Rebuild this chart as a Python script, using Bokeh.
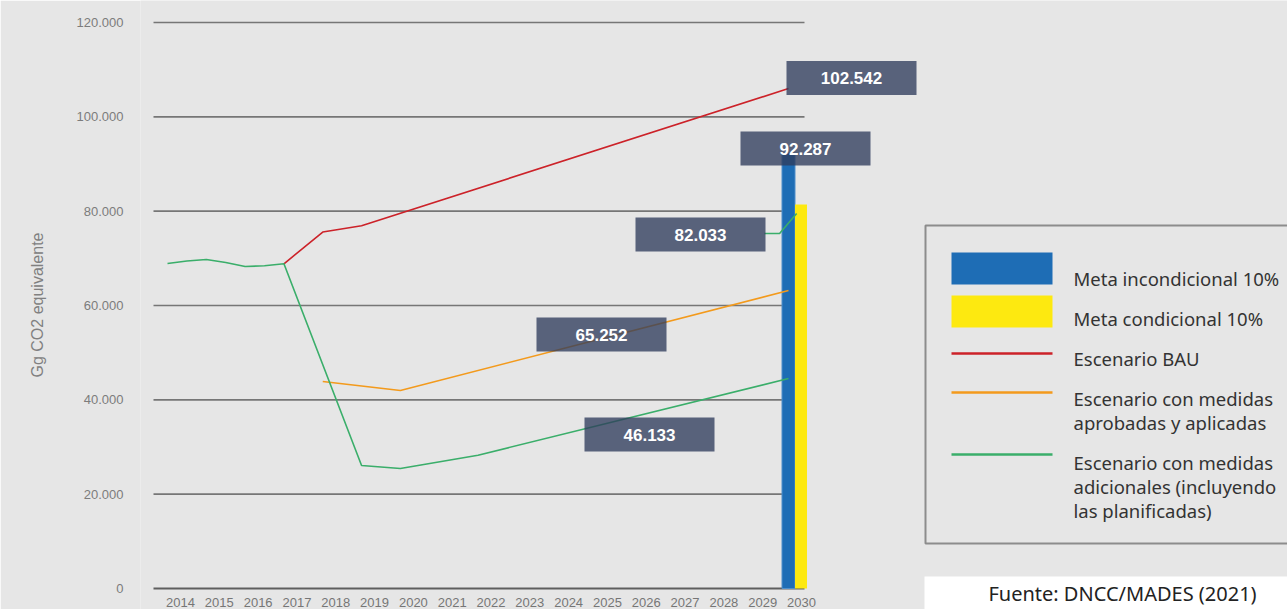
from bokeh.plotting import figure
from bokeh.models import FixedTicker
from bokeh.core.properties import value
from bokeh.embed import file_html
from bokeh.resources import INLINE

# ---------------- data ----------------
years = list(range(2014, 2031))
year_labels = [str(y) for y in years]

y_ticks = [0, 20000, 40000, 60000, 80000, 100000, 120000]
y_tick_labels = ["0", "20.000", "40.000", "60.000", "80.000", "100.000", "120.000"]

bau_years = [2017, 2018, 2019, 2030]
bau_values = [68840, 75580, 76900, 106000]

aprob_years = [2018, 2020, 2030]
aprob_values = [43890, 41980, 63180]

adic_years = [2014, 2014.5, 2015, 2015.5, 2016, 2016.5, 2017, 2019, 2020, 2022, 2030]
adic_values = [68900, 69430, 69750, 69120, 68270, 68420, 68840, 26080, 25440, 28260, 44520]

meta_path_years = [2029.38, 2029.77, 2030.21]
meta_path_values = [75260, 75260, 79500]

bar_year = 2030
meta_incond = 92287
meta_cond = 81400

callout_values = ["102.542", "92.287", "82.033", "65.252", "46.133"]

legend_labels = [
    "Meta incondicional 10%",
    "Meta condicional 10%",
    "Escenario BAU",
    "Escenario con medidas\naprobadas y aplicadas",
    "Escenario con medidas\nadicionales (incluyendo\nlas planificadas)",
]
y_axis_title = "Gg CO2 equivalente"
source_text = "Fuente: DNCC/MADES (2021)"

# ---------------- layout helpers ----------------
BG = "#e6e6e6"
W, H = 1287, 609
FRAME_LEFT = 140
PX_PER_YEAR = 38.8125
UPP = 120000 / 566.0          # data units per screen pixel (vertical)


def rx(px):
    return 2014 + (px - 167) / PX_PER_YEAR


def ry(py):
    return (588 - py) * UPP


X0, X1 = rx(FRAME_LEFT), rx(W)
Y0, Y1 = ry(H), ry(0)

p = figure(width=W, height=H, x_range=(X0, X1), y_range=(Y0, Y1),
           output_backend="svg", toolbar_location=None, x_axis_location=None,
           min_border_left=FRAME_LEFT, min_border_right=0, min_border_top=0, min_border_bottom=0,
           background_fill_color=BG, border_fill_color=BG, outline_line_color=None)
p.grid.visible = False

ax = p.yaxis[0]
ax.ticker = FixedTicker(ticks=y_ticks)
ax.major_label_overrides = dict(zip(y_ticks, y_tick_labels))
ax.axis_line_color = None
ax.major_tick_line_color = None
ax.minor_tick_line_color = None
ax.major_tick_out = 0
ax.major_tick_in = 0
ax.major_label_standoff = 17
ax.major_label_text_font = "Liberation Sans"
ax.major_label_text_font_size = "13px"
ax.major_label_text_color = "#7c7c7c"
ax.axis_label = y_axis_title
ax.axis_label_text_font = "Liberation Sans"
ax.axis_label_text_font_size = "16px"
ax.axis_label_text_font_style = "normal"
ax.axis_label_text_color = "#808080"
ax.axis_label_standoff = 28

# gridlines
GX0, GX1 = rx(153), rx(804)
p.segment(x0=GX0, x1=GX1, y0=y_ticks[1:], y1=y_ticks[1:], line_color="#767676", line_width=1.6)
p.segment(x0=GX0, x1=GX1, y0=[y_ticks[0]], y1=[y_ticks[0]], line_color="#5e5e5e", line_width=2)

# bars
p.vbar(x=[bar_year], top=[meta_incond], bottom=0, width=13 / PX_PER_YEAR,
       fill_color="#1e6db5", line_color="#4f8fcb", line_width=1)
p.vbar(x=[bar_year + 12.5 / PX_PER_YEAR], top=[meta_cond], bottom=0, width=12 / PX_PER_YEAR,
       fill_color="#fde910", line_color=None)

# lines
p.line(bau_years, bau_values, line_color="#cc2229", line_width=1.6)
p.line(aprob_years, aprob_values, line_color="#f39a1c", line_width=1.6)
p.line(adic_years, adic_values, line_color="#3aae6a", line_width=1.6)
p.line(meta_path_years, meta_path_values, line_color="#3aae6a", line_width=1.6)

# callout boxes
cx = [rx(851), rx(805), rx(700), rx(601), rx(649)]
cy = [ry(77.5), ry(148), ry(234), ry(334), ry(434)]
p.rect(x=cx, y=cy, width=130, height=34, width_units="screen", height_units="screen",
       fill_color="#303c5c", fill_alpha=0.78, line_color=None)
p.text(x=cx, y=cy, text=callout_values, text_align="center", text_baseline="middle",
       text_color="white", text_font=value("Liberation Sans"), text_font_size="17px",
       text_font_style="bold")

# year labels
p.text(x=years, y=[ry(597)] * len(years), text=year_labels, x_offset=13,
       text_align="center", text_baseline="top", text_color="#767676",
       text_font=value("Liberation Sans"), text_font_size="13px")

# legend
p.quad(left=[rx(925)], right=[rx(1310)], top=[ry(225)], bottom=[ry(543)],
       fill_alpha=0, line_color="#8c8c8c", line_width=2)
p.rect(x=[rx(1001.5)] * 2, y=[ry(268), ry(311)], width=101, height=32,
       width_units="screen", height_units="screen",
       fill_color=["#1e6db5", "#fde910"], line_color=None)
leg_line_y = [ry(353), ry(392), ry(454)]
p.segment(x0=[rx(951)] * 3, x1=[rx(1052)] * 3, y0=leg_line_y, y1=leg_line_y,
          line_color=["#cc2229", "#f39a1c", "#3aae6a"], line_width=2.5)

leg_base = [278, 318, 358, 398, 462]
tx, ty, tt = [], [], []
for base, lab in zip(leg_base, legend_labels):
    for i, line in enumerate(lab.split("\n")):
        tx.append(rx(1073))
        ty.append(ry(base + 24 * i))
        tt.append(line)
p.text(x=tx, y=ty, text=tt, text_align="left", text_baseline="alphabetic",
       text_color="#333333", text_font=value("Noto Sans"), text_font_size="18.5px")

# source box
p.quad(left=[rx(924)], right=[rx(1310)], top=[ry(576)], bottom=[Y0 - 2000],
       fill_color="white", line_color=None)
p.text(x=[rx(1122)], y=[ry(593)], text=[source_text], text_align="center",
       text_baseline="middle", text_color="#222222", text_font=value("Noto Sans"),
       text_font_size="20px")

open("out.html", "w").write(file_html(p, INLINE, title="Emisiones"))
